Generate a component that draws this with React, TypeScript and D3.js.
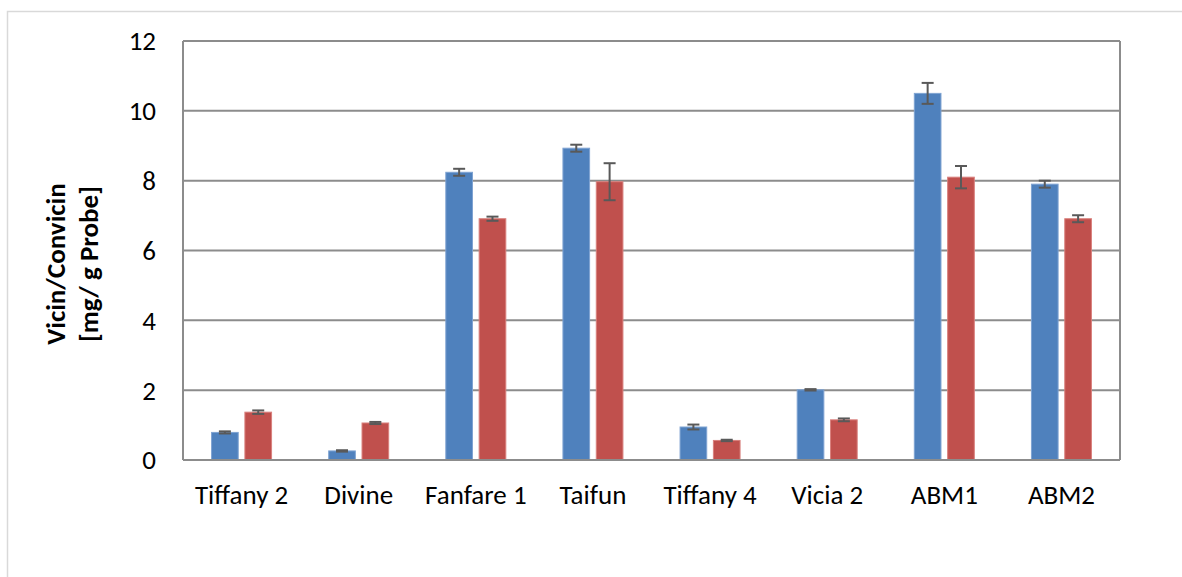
import React from "react";
import * as d3 from "d3";

const categories = ["Tiffany 2", "Divine", "Fanfare 1", "Taifun", "Tiffany 4", "Vicia 2", "ABM1", "ABM2"];
const vicinValues = [0.79, 0.26, 8.24, 8.93, 0.945, 2.01, 10.5, 7.9];
const vicinErrors = [0.03, 0.02, 0.1, 0.1, 0.07, 0.02, 0.3, 0.1];
const convicinValues = [1.37, 1.06, 6.91, 7.97, 0.56, 1.15, 8.1, 6.91];
const convicinErrors = [0.05, 0.03, 0.06, 0.53, 0.02, 0.04, 0.32, 0.1];
const yTicks = [0, 2, 4, 6, 8, 10, 12];
const seriesKeys = ["vicin", "convicin"];
const seriesColors = ["#4F81BD", "#C0504D"];
const seriesEdges = ["#7FA3D2", "#D9807D"];

const W = 1182;
const H = 577;
const plot = { left: 183, right: 1120, top: 41, bottom: 460 };
const FONT = "Carlito, Calibri, Lato, 'Open Sans', sans-serif";

export default function App() {
  const x0 = d3.scaleBand<string>().domain(categories).range([plot.left, plot.right]).padding(0);
  const x1 = d3.scaleBand<string>().domain(seriesKeys).range([-30, 30]).paddingInner(0.2);
  const y = d3.scaleLinear().domain([0, 12]).range([plot.bottom, plot.top]);
  const series = [
    { key: "vicin", values: vicinValues, errors: vicinErrors },
    { key: "convicin", values: convicinValues, errors: convicinErrors },
  ];
  const gridColor = "#8C8C8C";
  const errColor = "#595959";
  const cap = 6;

  return (
    <svg width={W} height={H} style={{ position: "absolute", left: 0, top: 0, background: "#fff" }} fontFamily={FONT}>
      <rect x={7.5} y={11.5} width={W} height={H} fill="none" stroke="#D9D9D9" strokeWidth={1.5} />
      {yTicks.map((t) => (
        <g key={t}>
          <line x1={plot.left} x2={plot.right} y1={y(t)} y2={y(t)} stroke={gridColor} strokeWidth={2} />
          <text x={156} y={y(t)} dy="0.35em" textAnchor="end" fontSize={27} fill="#000">
            {t}
          </text>
        </g>
      ))}
      <line x1={plot.left} x2={plot.left} y1={plot.top} y2={plot.bottom} stroke={gridColor} strokeWidth={2} />
      <line x1={plot.right} x2={plot.right} y1={plot.top} y2={plot.bottom} stroke={gridColor} strokeWidth={2} />
      {series.map((s, si) =>
        categories.map((c, i) => {
          const cx = (x0(c) as number) + x0.bandwidth() / 2 + (x1(s.key) as number);
          const bw = x1.bandwidth();
          const v = s.values[i];
          const e = s.errors[i];
          const mx = cx + bw / 2;
          return (
            <g key={s.key + c}>
              <rect
                x={cx}
                y={y(v)}
                width={bw}
                height={y(0) - y(v)}
                fill={seriesColors[si]}
                stroke={seriesEdges[si]}
                strokeWidth={1}
              />
              <line x1={mx} x2={mx} y1={y(v + e)} y2={y(v - e)} stroke={errColor} strokeWidth={2} />
              <line x1={mx - cap} x2={mx + cap} y1={y(v + e)} y2={y(v + e)} stroke={errColor} strokeWidth={2} />
              <line x1={mx - cap} x2={mx + cap} y1={y(v - e)} y2={y(v - e)} stroke={errColor} strokeWidth={2} />
            </g>
          );
        })
      )}
      <line x1={plot.left} x2={plot.right} y1={plot.bottom} y2={plot.bottom} stroke={gridColor} strokeWidth={2} />
      {categories.map((c) => (
        <text
          key={c}
          x={(x0(c) as number) + x0.bandwidth() / 2}
          y={495}
          dy="0.35em"
          textAnchor="middle"
          fontSize={27}
          fill="#000"
        >
          {c}
        </text>
      ))}
      <g transform="translate(56,264) rotate(-90)">
        <text x={0} y={0} dy="0.35em" textAnchor="middle" fontSize={27} fontWeight="bold" fill="#000">
          Vicin/Convicin
        </text>
      </g>
      <g transform="translate(89,264) rotate(-90)">
        <text x={0} y={0} dy="0.35em" textAnchor="middle" fontSize={27} fontWeight="bold" fill="#000">
          [mg/ g Probe]
        </text>
      </g>
    </svg>
  );
}
